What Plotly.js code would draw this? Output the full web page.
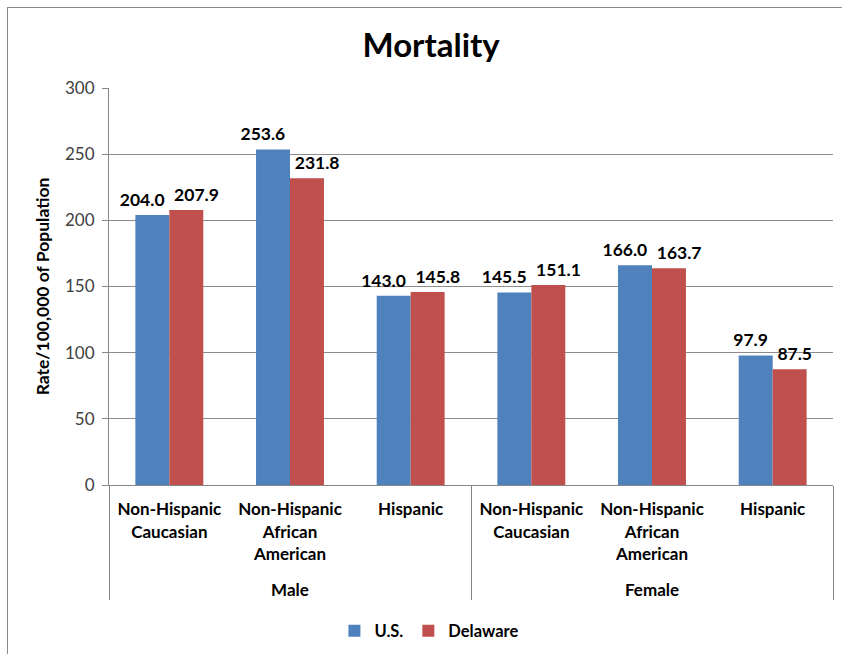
<!DOCTYPE html>
<html><head><meta charset="utf-8">
<script src="https://cdn.plot.ly/plotly-3.0.1.min.js"></script>
<style>
body{margin:0;padding:0;background:#fff;overflow:hidden}
#frame{position:absolute;left:7px;top:7px;width:900px;height:700px;border:1.5px solid #8a8a8a;box-sizing:border-box}
#chart{position:absolute;left:0;top:0;width:842px;height:654px}
</style></head>
<body>
<div id="frame"></div>
<div id="chart"></div>
<script>
const groups = ["Male","Male","Male","Female","Female","Female"];
const categories = ["Non-Hispanic<br>Caucasian","Non-Hispanic<br>African<br>American","Hispanic",
                    "Non-Hispanic<br>Caucasian","Non-Hispanic<br>African<br>American","Hispanic"];
const usValues = [204.0, 253.6, 143.0, 145.5, 166.0, 97.9];
const delawareValues = [207.9, 231.8, 145.8, 151.1, 163.7, 87.5];
const seriesNames = ["U.S.", "Delaware"];
const seriesColors = ['#4F81BD', '#C0504D'];

const font = "Lato, 'Open Sans', sans-serif";
const groupLabels = groups.map(g => ' <br>' + g);
const xs = [groupLabels, categories];

function barTrace(name, vals, color){
  return {
    type:'bar', name:name, x:xs, y:vals,
    marker:{color:color}, hoverinfo:'none'
  };
}
function labelTrace(vals, pos){
  return {
    type:'scatter', mode:'markers+text', x:xs, y:vals, showlegend:false, hoverinfo:'none',
    marker:{size:6, opacity:0},
    text: vals.map(v=>v.toFixed(1)), textposition:pos, cliponaxis:false,
    textfont:{family:font, size:17.5, color:'#000', weight:'bold'}
  };
}
const data = [
  barTrace(seriesNames[0], usValues, seriesColors[0]),
  barTrace(seriesNames[1], delawareValues, seriesColors[1]),
  labelTrace(usValues, 'top left'),
  labelTrace(delawareValues, 'top right')
];
const layout = {
  width:842, height:654,
  paper_bgcolor:'rgba(0,0,0,0)', plot_bgcolor:'rgba(0,0,0,0)',
  margin:{l:109, r:9, t:88, b:169},
  title:{text:'<b>Mortality</b>', x:0.512, xref:'container', y:0.93, yref:'container', yanchor:'middle',
         font:{family:font, size:33, color:'#000'}},
  barmode:'group', bargap:0.437, bargroupgap:0,
  font:{family:font, size:17, color:'#000'},
  xaxis:{type:'multicategory', showline:true, linecolor:'#868686', linewidth:1,
         showdividers:true, dividercolor:'#868686', dividerwidth:1,
         tickfont:{family:font, size:17, color:'#000', weight:'bold'},
         ticks:'', ticklabelstandoff:9},
  yaxis:{range:[0,300], dtick:50, tick0:0, showgrid:true, gridcolor:'#8c8c8c', gridwidth:1,
         showline:true, linecolor:'#868686', ticks:'outside', ticklen:6, tickcolor:'#868686',
         zeroline:false, ticklabelstandoff:4,
         tickfont:{family:font, size:17, color:'#404040'},
         title:{text:'<b>Rate/100,000 of Population</b>', font:{family:font, size:17.5, color:'#000'}, standoff:10}},
  legend:{orientation:'h', x:0.51, xanchor:'center', xref:'container', y:0.035, yref:'container', yanchor:'middle',
          font:{family:font, size:16.5, color:'#000', weight:'bold'}, itemwidth:30},
  showlegend:true
};
Plotly.newPlot('chart', data, layout, {staticPlot:true});
</script>
</body></html>
